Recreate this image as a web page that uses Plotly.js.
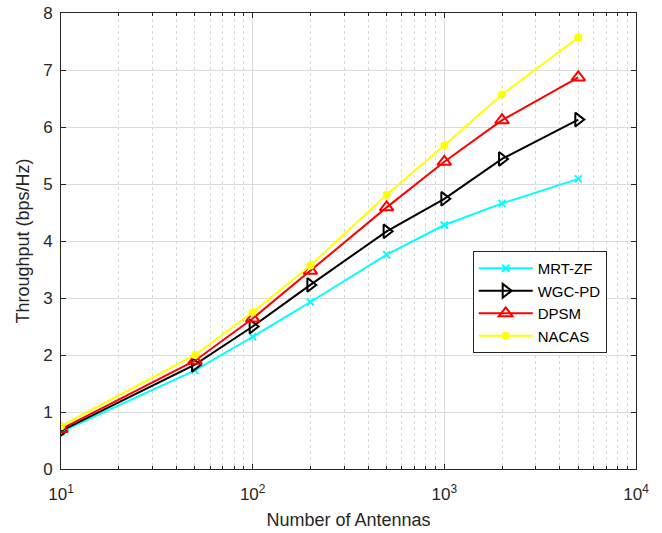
<!DOCTYPE html>
<html>
<head>
<meta charset="utf-8">
<script src="https://cdn.plot.ly/plotly-3.0.1.min.js"></script>
<style>html,body{margin:0;padding:0;background:#fff;}#chart{width:662px;height:533px;}</style>
</head>
<body>
<div id="chart"></div>
<script>
const antennas = [10, 50, 100, 200, 500, 1000, 2000, 5000];
const mrtZF = [0.65, 1.73, 2.32, 2.93, 3.76, 4.28, 4.66, 5.09];
const wgcPD = [0.67, 1.83, 2.50, 3.23, 4.17, 4.74, 5.44, 6.13];
const dpsm  = [0.70, 1.90, 2.64, 3.48, 4.59, 5.39, 6.12, 6.87];
const nacas = [0.75, 2.00, 2.75, 3.57, 4.81, 5.68, 6.57, 7.57];
const seriesNames = ['MRT-ZF', 'WGC-PD', 'DPSM', 'NACAS'];
const xTickVals = [10, 100, 1000, 10000];
const xTickText = ['10<sup>1</sup>', '10<sup>2</sup>', '10<sup>3</sup>', '10<sup>4</sup>'];
const yTickVals = [0, 1, 2, 3, 4, 5, 6, 7, 8];

const minorVals = [];
[10, 100, 1000].forEach(d => { for (let k = 2; k <= 9; k++) minorVals.push(d * k); });

const traces = [
  {x: antennas, y: mrtZF, name: seriesNames[0], mode: 'lines+markers',
   line: {color: '#00FFFF', width: 2}, marker: {symbol: 'x-thin-open', size: 7, color: '#00FFFF', line: {color: '#00FFFF', width: 2}}},
  {x: antennas, y: wgcPD, name: seriesNames[1], mode: 'lines+markers',
   line: {color: '#000000', width: 2}, marker: {symbol: 'triangle-right-open', size: 12, color: '#000000', line: {width: 2}}},
  {x: antennas, y: dpsm, name: seriesNames[2], mode: 'lines+markers',
   line: {color: '#FF0000', width: 2}, marker: {symbol: 'triangle-up-open', size: 12, color: '#FF0000', line: {width: 2}}},
  {x: antennas, y: nacas, name: seriesNames[3], mode: 'lines+markers',
   line: {color: '#FFFF00', width: 2}, marker: {symbol: 'circle', size: 8, color: '#FFFF00'}}
];

const layout = {
  width: 662, height: 533,
  margin: {l: 61, r: 26, t: 13, b: 64},
  paper_bgcolor: '#ffffff', plot_bgcolor: '#ffffff',
  font: {family: 'Liberation Sans, Arial, sans-serif', size: 16, color: '#262626'},
  showlegend: true,
  legend: {x: 0.716, y: 0.478, xanchor: 'left', yanchor: 'top',
    bgcolor: '#ffffff', bordercolor: '#262626', borderwidth: 1,
    font: {size: 15, color: '#000000'}, tracegroupgap: 0, itemwidth: 54},
  xaxis: {
    type: 'log', range: [1, 4], tickmode: 'array', tickvals: xTickVals, ticktext: xTickText,
    showgrid: true, gridcolor: '#dcdcdc', gridwidth: 1,
    minor: {tickmode: 'array', tickvals: minorVals, showgrid: true, gridcolor: '#d8d8d8', griddash: 'dot', gridwidth: 1, ticks: 'inside', ticklen: 3, tickcolor: '#262626'},
    showline: true, linecolor: '#262626', linewidth: 1, mirror: 'ticks',
    ticks: 'inside', ticklen: 5, tickcolor: '#262626',
    zeroline: false, tickfont: {size: 17}, ticklabelstandoff: 10,
    title: {text: 'Number of Antennas', font: {size: 18}, standoff: 9}
  },
  yaxis: {
    range: [0, 8], tickmode: 'array', tickvals: yTickVals,
    showgrid: true, gridcolor: '#dcdcdc', gridwidth: 1,
    showline: true, linecolor: '#262626', linewidth: 1, mirror: 'ticks',
    ticks: 'inside', ticklen: 5, tickcolor: '#262626',
    zeroline: false, tickfont: {size: 17}, ticklabelstandoff: 4,
    title: {text: 'Throughput (bps/Hz)', font: {size: 18}, standoff: 8}
  }
};

Plotly.newPlot('chart', traces, layout, {displayModeBar: false, staticPlot: true});
</script>
</body>
</html>
